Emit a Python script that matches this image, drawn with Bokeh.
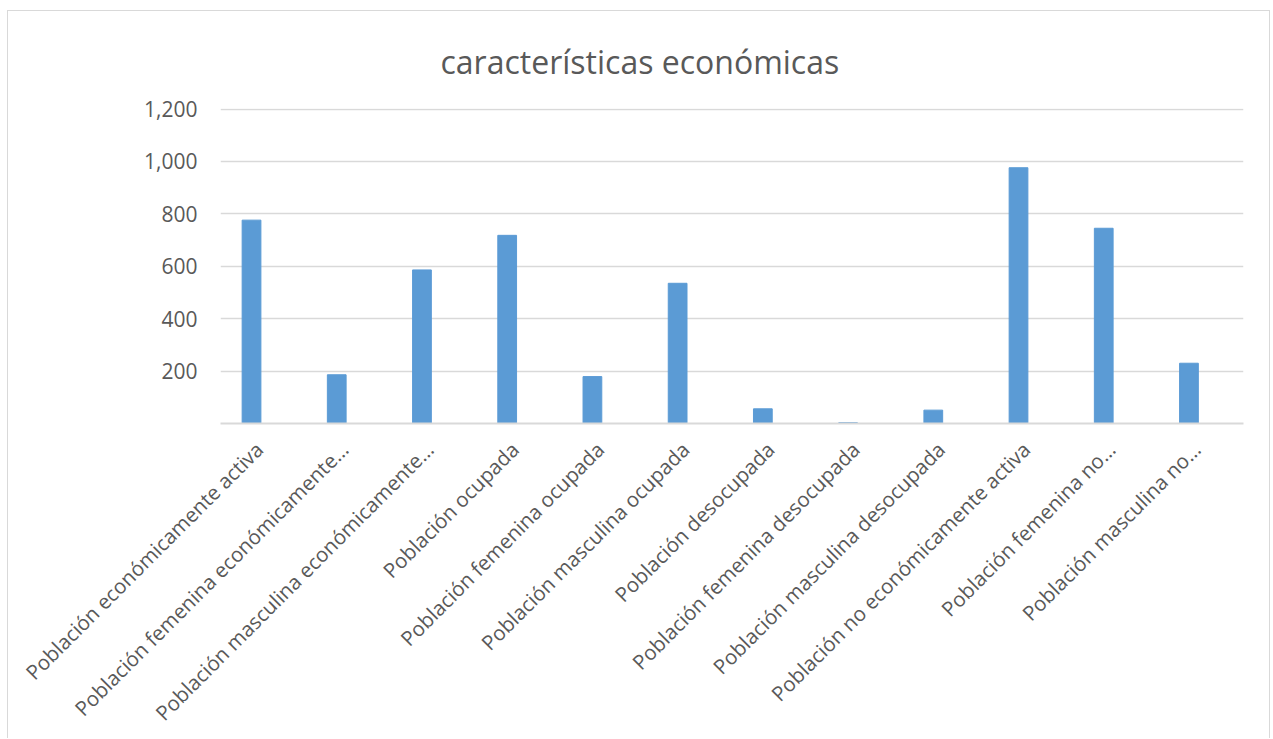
import math
from bokeh.plotting import figure
from bokeh.models import Range1d, FixedTicker, NumeralTickFormatter, Title
from bokeh.embed import file_html
from bokeh.resources import INLINE

categories = [
    "Población económicamente activa",
    "Población femenina económicamente…",
    "Población masculina económicamente…",
    "Población ocupada",
    "Población femenina ocupada",
    "Población masculina ocupada",
    "Población desocupada",
    "Población femenina desocupada",
    "Población masculina desocupada",
    "Población no económicamente activa",
    "Población femenina no…",
    "Población masculina no…",
]
values = [776, 186, 586, 718, 179, 535, 56, 3, 51, 976, 745, 230]
y_ticks = [0, 200, 400, 600, 800, 1000, 1200]
title_text = "características económicas"

FONT = "Open Sans"
TXT = "#595959"
GRID = "#D9D9D9"
BAR = "#5B9BD5"
LABEL_SHIFT = 0.09  # Excel anchors rotated labels slightly right of the category centre

xs = [i + 1 for i in range(len(categories))]
label_pos = [x + LABEL_SHIFT for x in xs]

p = figure(width=1263, height=728, output_backend="svg", toolbar_location=None,
           x_range=Range1d(0.636, 12.64), y_range=Range1d(0, 1202),
           min_border_left=212, min_border_right=28, min_border_top=97,
           min_border_bottom=316)
p.styles = {"margin-left": "7px", "margin-top": "10px",
            "border-left": "1px solid #D9D9D9", "border-top": "1px solid #D9D9D9",
            "border-right": "1px solid #D9D9D9"}

p.vbar(x=xs, top=values, width=0.22, color=BAR)

t = Title(text=title_text, align="left", offset=220,
          text_font=FONT, text_font_size="32px", text_font_style="normal",
          text_color=TXT, standoff=52)
p.add_layout(t, "above")

p.outline_line_color = None
p.background_fill_color = "white"
p.border_fill_color = "white"

p.xgrid.visible = False
p.ygrid.grid_line_color = GRID
p.ygrid.grid_line_width = 1.3
p.ygrid.ticker = FixedTicker(ticks=y_ticks)

p.yaxis.ticker = FixedTicker(ticks=y_ticks)
p.yaxis.formatter = NumeralTickFormatter(format="0,0")
p.yaxis.major_label_overrides = {0: ""}
p.yaxis.axis_line_color = None
p.yaxis.major_tick_line_color = None
p.yaxis.minor_tick_line_color = None
p.yaxis.major_tick_out = 0
p.yaxis.major_label_standoff = 23
p.yaxis.major_label_text_font = FONT
p.yaxis.major_label_text_font_size = "21px"
p.yaxis.major_label_text_color = TXT

p.xaxis.ticker = FixedTicker(ticks=label_pos)
p.xaxis.major_label_overrides = {x: c for x, c in zip(label_pos, categories)}
p.xaxis.major_label_orientation = math.pi / 4
p.xaxis.axis_line_color = GRID
p.xaxis.axis_line_width = 2
p.xaxis.major_tick_line_color = None
p.xaxis.minor_tick_line_color = None
p.xaxis.major_tick_out = 0
p.xaxis.major_label_standoff = 22
p.xaxis.major_label_text_font = FONT
p.xaxis.major_label_text_font_size = "20.5px"
p.xaxis.major_label_text_color = TXT

open("out.html", "w").write(file_html(p, INLINE))
